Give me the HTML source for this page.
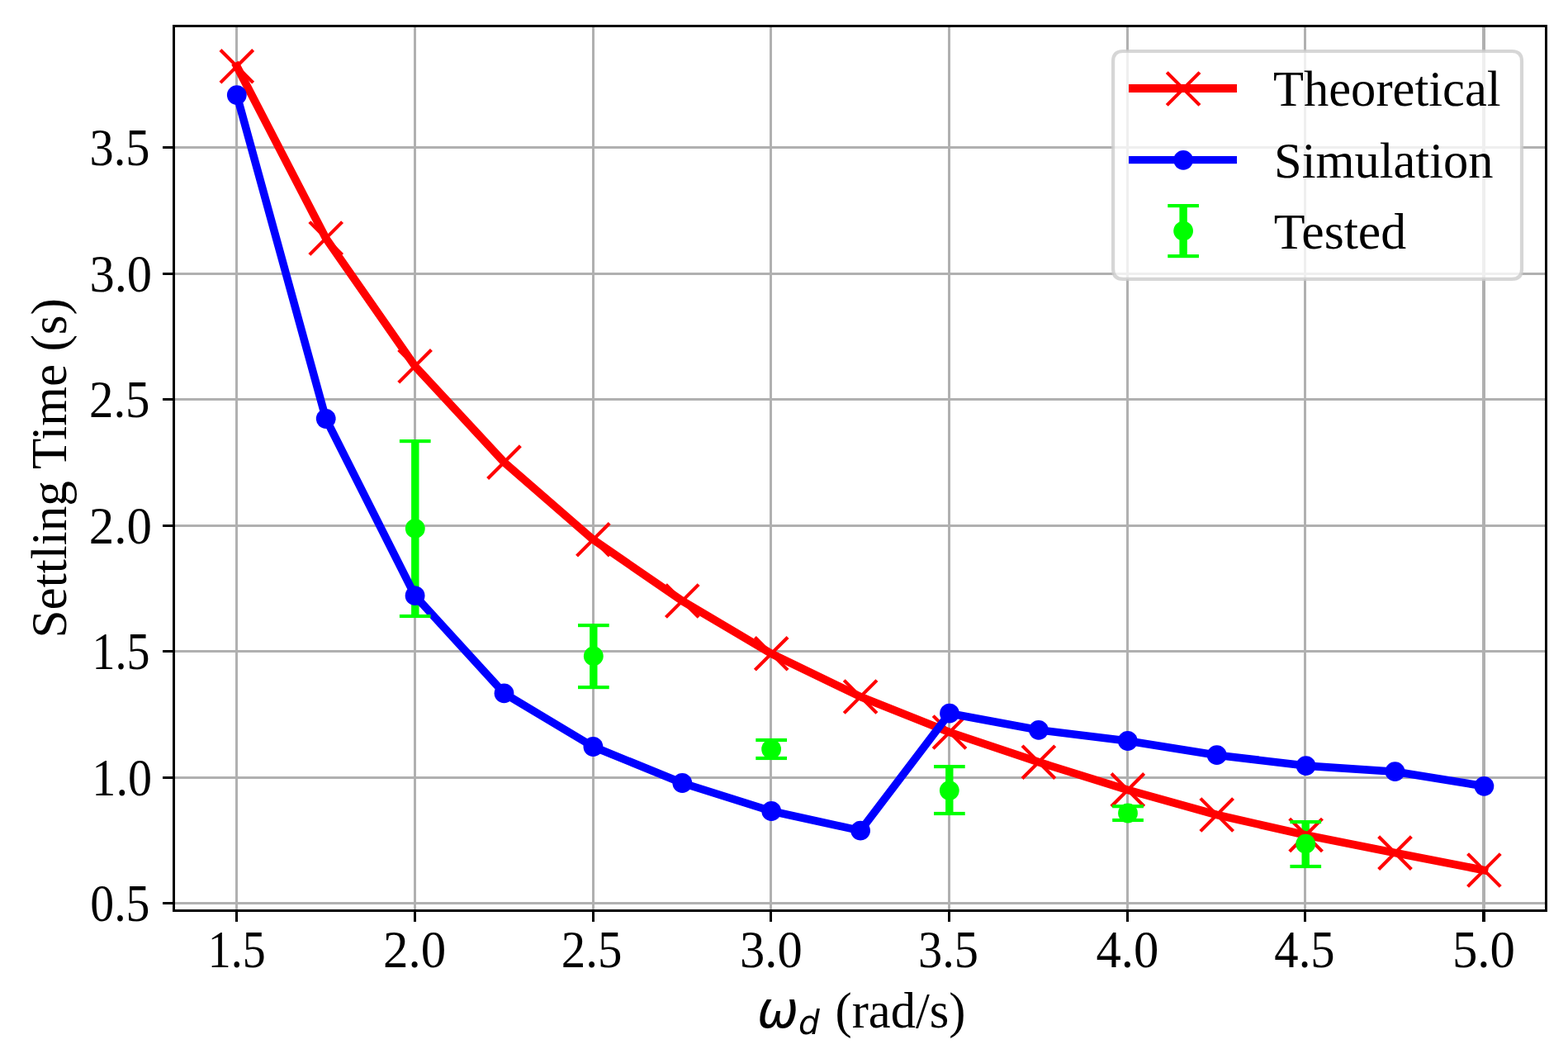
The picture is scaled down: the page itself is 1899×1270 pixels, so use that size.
<!DOCTYPE html>
<html lang="en"><head><meta charset="utf-8"><title>Settling Time vs damped frequency</title>
<style>
html,body{margin:0;padding:0;background:#fff;}
body{width:1899px;height:1270px;overflow:hidden;}
svg{display:block;}
text{font-family:"Liberation Serif",serif;font-size:60px;fill:#000;}
.m{font-family:"DejaVu Sans",sans-serif;font-style:italic;}
</style></head><body>
<svg width="1899" height="1270" viewBox="0 0 1899 1270">
<rect x="0" y="0" width="1899" height="1270" fill="#ffffff"/>
<defs><clipPath id="ax"><rect x="210.5" y="31.5" width="1662" height="1071"/></clipPath>
</defs>
<g stroke="#b0b0b0" stroke-width="3" fill="none">
<line x1="286.5" y1="31.5" x2="286.5" y2="1102.5" stroke-width="3"/>
<line x1="502.5" y1="31.5" x2="502.5" y2="1102.5" stroke-width="3"/>
<line x1="718.5" y1="31.5" x2="718.5" y2="1102.5" stroke-width="3"/>
<line x1="933.5" y1="31.5" x2="933.5" y2="1102.5" stroke-width="3"/>
<line x1="1149.5" y1="31.5" x2="1149.5" y2="1102.5" stroke-width="3"/>
<line x1="1365.5" y1="31.5" x2="1365.5" y2="1102.5" stroke-width="3"/>
<line x1="1580.5" y1="31.5" x2="1580.5" y2="1102.5" stroke-width="3"/>
<line x1="1797" y1="31.5" x2="1797" y2="1102.5" stroke-width="4"/>
<line x1="210.5" y1="1093.5" x2="1872.5" y2="1093.5"/>
<line x1="210.5" y1="941.5" x2="1872.5" y2="941.5"/>
<line x1="210.5" y1="788.5" x2="1872.5" y2="788.5"/>
<line x1="210.5" y1="636.5" x2="1872.5" y2="636.5"/>
<line x1="210.5" y1="483.5" x2="1872.5" y2="483.5"/>
<line x1="210.5" y1="331.5" x2="1872.5" y2="331.5"/>
<line x1="210.5" y1="178.5" x2="1872.5" y2="178.5"/>
</g>
<g clip-path="url(#ax)">
<g stroke="#00ff00" stroke-width="9.4" fill="none">
<line x1="502.8" y1="534.1" x2="502.8" y2="746"/>
<line x1="718.8" y1="757.1" x2="718.8" y2="832.1"/>
<line x1="934.1" y1="896" x2="934.1" y2="918"/>
<line x1="1149.8" y1="928.1" x2="1149.8" y2="985"/>
<line x1="1366.0" y1="976.2" x2="1366.0" y2="993"/>
<line x1="1581.2" y1="995.1" x2="1581.2" y2="1049"/>
</g>
<polyline points="286.8,80.3 394.7,288.5 502.6,443.3 610.5,559.6 718.4,653.3 826.3,727.5 934.2,791.3 1042.1,843.5 1150.0,886.5 1257.9,922.7 1365.8,956.4 1473.7,986.5 1581.6,1011.0 1689.5,1032.6 1797.4,1053.5" fill="none" stroke="#ff0000" stroke-width="9.7" stroke-linejoin="round" stroke-linecap="square"/>
<g fill="none" stroke="#ff0000" stroke-width="4.17" stroke-linecap="butt">
<path d="M266.95 60.45l39.7 39.7m-39.7 0l39.7 -39.7"/>
<path d="M374.85 268.65l39.7 39.7m-39.7 0l39.7 -39.7"/>
<path d="M482.75 423.45l39.7 39.7m-39.7 0l39.7 -39.7"/>
<path d="M590.65 539.75l39.7 39.7m-39.7 0l39.7 -39.7"/>
<path d="M698.55 633.45l39.7 39.7m-39.7 0l39.7 -39.7"/>
<path d="M806.45 707.65l39.7 39.7m-39.7 0l39.7 -39.7"/>
<path d="M914.35 771.45l39.7 39.7m-39.7 0l39.7 -39.7"/>
<path d="M1022.25 823.65l39.7 39.7m-39.7 0l39.7 -39.7"/>
<path d="M1130.15 866.65l39.7 39.7m-39.7 0l39.7 -39.7"/>
<path d="M1238.05 902.85l39.7 39.7m-39.7 0l39.7 -39.7"/>
<path d="M1345.95 936.55l39.7 39.7m-39.7 0l39.7 -39.7"/>
<path d="M1453.85 966.65l39.7 39.7m-39.7 0l39.7 -39.7"/>
<path d="M1561.75 991.15l39.7 39.7m-39.7 0l39.7 -39.7"/>
<path d="M1669.65 1012.75l39.7 39.7m-39.7 0l39.7 -39.7"/>
<path d="M1777.55 1033.65l39.7 39.7m-39.7 0l39.7 -39.7"/>
</g>
<polyline points="286.8,115.1 394.7,507.0 502.6,721.2 610.5,839.3 718.4,904.0 826.3,948.0 934.2,982.0 1042.1,1005.6 1150.0,863.7 1257.9,883.8 1365.8,897.0 1473.7,914.2 1581.6,927.1 1689.5,934.2 1797.4,951.8" fill="none" stroke="#0000ff" stroke-width="9.6" stroke-linejoin="round" stroke-linecap="square"/>
<g fill="#0000ff">
<circle cx="286.8" cy="115.1" r="11.9"/>
<circle cx="394.7" cy="507.0" r="11.9"/>
<circle cx="502.6" cy="721.2" r="11.9"/>
<circle cx="610.5" cy="839.3" r="11.9"/>
<circle cx="718.4" cy="904.0" r="11.9"/>
<circle cx="826.3" cy="948.0" r="11.9"/>
<circle cx="934.2" cy="982.0" r="11.9"/>
<circle cx="1042.1" cy="1005.6" r="11.9"/>
<circle cx="1150.0" cy="863.7" r="11.9"/>
<circle cx="1257.9" cy="883.8" r="11.9"/>
<circle cx="1365.8" cy="897.0" r="11.9"/>
<circle cx="1473.7" cy="914.2" r="11.9"/>
<circle cx="1581.6" cy="927.1" r="11.9"/>
<circle cx="1689.5" cy="934.2" r="11.9"/>
<circle cx="1797.4" cy="951.8" r="11.9"/>
</g>
<g fill="#00ff00">
<circle cx="502.8" cy="639.9" r="11.9"/>
<rect x="483.9" y="532.0" width="37.7" height="4.17"/>
<rect x="483.9" y="743.9" width="37.7" height="4.17"/>
<circle cx="718.8" cy="794.3" r="11.9"/>
<rect x="700.0" y="755.0" width="37.7" height="4.17"/>
<rect x="700.0" y="830.0" width="37.7" height="4.17"/>
<circle cx="934.1" cy="907.0" r="11.9"/>
<rect x="915.3" y="893.9" width="37.7" height="4.17"/>
<rect x="915.3" y="915.9" width="37.7" height="4.17"/>
<circle cx="1149.8" cy="957.1" r="11.9"/>
<rect x="1131.0" y="926.0" width="37.7" height="4.17"/>
<rect x="1131.0" y="982.9" width="37.7" height="4.17"/>
<circle cx="1366.0" cy="984.5" r="11.9"/>
<rect x="1347.2" y="974.1" width="37.7" height="4.17"/>
<rect x="1347.2" y="990.9" width="37.7" height="4.17"/>
<circle cx="1581.2" cy="1021.7" r="11.9"/>
<rect x="1562.4" y="993.0" width="37.7" height="4.17"/>
<rect x="1562.4" y="1046.9" width="37.7" height="4.17"/>
</g>
</g>
<g fill="#000000">
<rect x="285" y="1102.5" width="3" height="13.5"/>
<rect x="501" y="1102.5" width="3" height="13.5"/>
<rect x="717" y="1102.5" width="3" height="13.5"/>
<rect x="932" y="1102.5" width="3" height="13.5"/>
<rect x="1148" y="1102.5" width="3" height="13.5"/>
<rect x="1364" y="1102.5" width="3" height="13.5"/>
<rect x="1579" y="1102.5" width="3" height="13.5"/>
<rect x="1795" y="1102.5" width="4" height="13.5"/>
<rect x="197" y="1092" width="13.5" height="3"/>
<rect x="197" y="940" width="13.5" height="3"/>
<rect x="197" y="787" width="13.5" height="3"/>
<rect x="197" y="635" width="13.5" height="3"/>
<rect x="197" y="482" width="13.5" height="3"/>
<rect x="197" y="330" width="13.5" height="3"/>
<rect x="197" y="177" width="13.5" height="3"/>
</g>
<rect x="210.5" y="31.5" width="1662" height="1071" fill="none" stroke="#000000" stroke-width="3"/>
<text transform="translate(251.86 1171.20) scale(0.9318 1.045)">1.5</text>
<text transform="translate(463.96 1171.20) scale(1.0157 1.045)">2.0</text>
<text transform="translate(679.85 1171.20) scale(0.9815 1.045)">2.5</text>
<text transform="translate(896.08 1171.20) scale(1.0086 1.045)">3.0</text>
<text transform="translate(1111.97 1171.20) scale(0.9742 1.045)">3.5</text>
<text transform="translate(1327.49 1171.20) scale(1.0112 1.045)">4.0</text>
<text transform="translate(1543.33 1171.20) scale(0.9776 1.045)">4.5</text>
<text transform="translate(1758.95 1171.20) scale(1.013 1.045)">5.0</text>
<text transform="translate(109.28 1114.50) scale(0.9631 1.045)">0.5</text>
<text transform="translate(111.37 962.50) scale(0.9674 1.045)">1.0</text>
<text transform="translate(111.56 809.50) scale(0.9318 1.045)">1.5</text>
<text transform="translate(107.86 657.50) scale(1.0157 1.045)">2.0</text>
<text transform="translate(107.95 504.50) scale(0.9815 1.045)">2.5</text>
<text transform="translate(108.38 352.50) scale(1.0086 1.045)">3.0</text>
<text transform="translate(108.47 199.50) scale(0.9742 1.045)">3.5</text>
<text transform="translate(80.10 566.80) rotate(-90) scale(1.0204 1.026)" text-anchor="middle">Settling Time (s)</text>
<text transform="translate(917.00 1243.50) scale(1 1.023)" class="m">ω</text>
<text transform="translate(967.00 1252.40)" class="m" style="font-size:40.5px">d</text>
<text transform="translate(1011.50 1243.50) scale(1.009 1.026)">(rad/s)</text>
<path d="M1360.1 62L1831 62Q1843 62 1843 74L1843 325.9Q1843 337.9 1831 337.9L1360.1 337.9Q1348.1 337.9 1348.1 325.9L1348.1 74Q1348.1 62 1360.1 62Z" fill="#ffffff" fill-opacity="0.8" stroke="#cccccc" stroke-opacity="0.8" stroke-width="4.17" stroke-linejoin="miter"/>
<rect x="1367" y="102" width="131" height="10" fill="#ff0000"/>
<g fill="none" stroke="#ff0000" stroke-width="4.17" stroke-linecap="butt">
<path d="M1413.25 87.65l39.7 39.7m-39.7 0l39.7 -39.7"/>
</g>
<rect x="1367" y="189" width="131" height="9.2" fill="#0000ff"/>
<circle cx="1433.1" cy="193.8" r="11.9" fill="#0000ff"/>
<g fill="#00ff00">
<rect x="1428.4" y="249.1" width="9.4" height="61"/>
<rect x="1414.25" y="247.015" width="37.7" height="4.17"/>
<rect x="1414.25" y="308.015" width="37.7" height="4.17"/>
<circle cx="1433.1" cy="279.6" r="11.9"/>
</g>
<text transform="translate(1542.00 128.10) scale(1.009 1.026)">Theoretical</text>
<text transform="translate(1543.00 215.00) scale(1.008 1.026)">Simulation</text>
<text transform="translate(1542.80 301.00) scale(1.03 1.026)">Tested</text>
</svg>
</body></html>
